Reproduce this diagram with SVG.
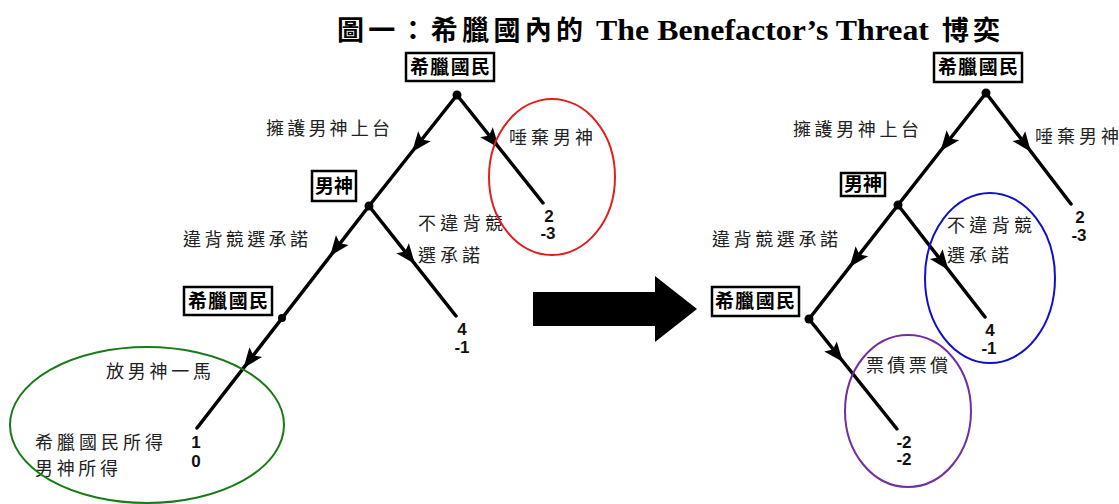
<svg xmlns="http://www.w3.org/2000/svg" xmlns:xlink="http://www.w3.org/1999/xlink" width="1119" height="504" viewBox="0 0 1119 504">
<style>
.edge{stroke:#000;stroke-width:3.5;fill:none;stroke-linecap:round}
.box{fill:#fff;stroke:#000;stroke-width:2.5}
.bl{font-family:"Noto Sans CJK TC","Noto Sans CJK SC",sans-serif;font-weight:700;font-size:19px;fill:#000;text-anchor:middle}
.lb{font-family:"Noto Sans CJK TC","Noto Sans CJK SC",sans-serif;font-weight:400;font-size:18px;fill:#222}
.num{font-family:"Liberation Sans",Arial,sans-serif;font-weight:700;font-size:17px;fill:#111;text-anchor:middle}
.dot{fill:#000}
.ring{fill:none;stroke-width:2}
</style>
<defs>
<path id="ah" d="M0,0 L-20,-8 L-16,0 L-20,8 Z" fill="#000"/>
</defs>
<rect width="1119" height="504" fill="#fff"/>
<g id="title">
<text x="337" y="40" textLength="246" lengthAdjust="spacing" font-family="Noto Sans CJK TC,Noto Sans CJK SC,sans-serif" font-weight="700" font-size="27" fill="#000">圖一：希臘國內的</text>
<text x="596" y="40" textLength="333" lengthAdjust="spacingAndGlyphs" font-family="Liberation Serif,Times New Roman,serif" font-weight="700" font-size="29" fill="#000">The Benefactor’s Threat</text>
<text x="942" y="40" textLength="58" lengthAdjust="spacing" font-family="Noto Sans CJK TC,Noto Sans CJK SC,sans-serif" font-weight="700" font-size="27" fill="#000">博奕</text>
</g>
<g id="connectors">
<path class="edge" d="M457,95 L369,206"/>
<path class="edge" d="M457,95 L543,203"/>
<path class="edge" d="M369,206 L197,428"/>
<path class="edge" d="M369,206 L456,316"/>
<path class="edge" d="M986,93 L898,205"/>
<path class="edge" d="M986,93 L1071,204"/>
<path class="edge" d="M898,205 L809,319"/>
<path class="edge" d="M898,205 L985,317"/>
<path class="edge" d="M809,319 L897,429"/>
<use xlink:href="#ah" href="#ah" transform="translate(412,152) rotate(128.4)"/>
<use xlink:href="#ah" href="#ah" transform="translate(499,148) rotate(51.5)"/>
<use xlink:href="#ah" href="#ah" transform="translate(330,256) rotate(127.8)"/>
<use xlink:href="#ah" href="#ah" transform="translate(243.5,368) rotate(127.8)"/>
<use xlink:href="#ah" href="#ah" transform="translate(415,264) rotate(51.7)"/>
<use xlink:href="#ah" href="#ah" transform="translate(940.5,151) rotate(128.2)"/>
<use xlink:href="#ah" href="#ah" transform="translate(1031,152) rotate(52.6)"/>
<use xlink:href="#ah" href="#ah" transform="translate(849.6,267) rotate(128)"/>
<use xlink:href="#ah" href="#ah" transform="translate(948.5,270) rotate(52.2)"/>
<use xlink:href="#ah" href="#ah" transform="translate(843,362) rotate(51.3)"/>
<polygon points="533,292 655,292 655,276 697,309 655,342 655,326 533,326" fill="#000"/>
</g>
<g id="left-tree-nodes">
<g id="L-root"><rect class="box" x="406" y="53" width="88" height="28"/><text class="bl" x="450" y="74" textLength="80" lengthAdjust="spacing">希臘國民</text><circle class="dot" cx="457" cy="95" r="4.5"/></g>
<g id="L-god"><rect class="box" x="312" y="171" width="44" height="30"/><text class="bl" x="334" y="193" textLength="38" lengthAdjust="spacing">男神</text><circle class="dot" cx="369" cy="206" r="4.5"/></g>
<g id="L-citizen2"><rect class="box" x="184" y="287" width="88" height="28"/><text class="bl" x="228" y="308" textLength="80" lengthAdjust="spacing">希臘國民</text><circle class="dot" cx="282" cy="318" r="4"/></g>
<g id="L-pay1"><text class="num" x="549" y="222">2</text><text class="num" x="548" y="239">-3</text></g>
<g id="L-pay2"><text class="num" x="462" y="335">4</text><text class="num" x="462" y="353">-1</text></g>
<g id="L-pay3"><text class="num" x="196" y="448">1</text><text class="num" x="196" y="467">0</text></g>
<text class="lb" x="266" y="135" textLength="124" lengthAdjust="spacing">擁護男神上台</text>
<text class="lb" x="509" y="144" textLength="84" lengthAdjust="spacing">唾棄男神</text>
<text class="lb" x="183" y="246" textLength="125" lengthAdjust="spacing">違背競選承諾</text>
<text class="lb" x="418" y="230" textLength="85" lengthAdjust="spacing">不違背競</text>
<text class="lb" x="418" y="262" textLength="62" lengthAdjust="spacing">選承諾</text>
<text class="lb" x="106" y="378" textLength="105" lengthAdjust="spacing">放男神一馬</text>
<text class="lb" x="35" y="449" textLength="128" lengthAdjust="spacing">希臘國民所得</text>
<text class="lb" x="35" y="475" textLength="83" lengthAdjust="spacing">男神所得</text>
<ellipse class="ring" cx="552" cy="177" rx="63" ry="78" stroke="#e02020"/>
<ellipse class="ring" cx="147" cy="425" rx="137" ry="78" stroke="#1a7a1a"/>
</g>
<g id="right-tree-nodes">
<g id="R-root"><rect class="box" x="934" y="53" width="88" height="29"/><text class="bl" x="978" y="74" textLength="80" lengthAdjust="spacing">希臘國民</text><circle class="dot" cx="986" cy="93" r="4.5"/></g>
<g id="R-god"><rect class="box" x="841" y="173" width="44" height="23"/><text class="bl" x="863" y="191" textLength="38" lengthAdjust="spacing">男神</text><circle class="dot" cx="898" cy="205" r="4.5"/></g>
<g id="R-citizen2"><rect class="box" x="712" y="287" width="87" height="29"/><text class="bl" x="755" y="308" textLength="80" lengthAdjust="spacing">希臘國民</text><circle class="dot" cx="809" cy="319" r="4.5"/></g>
<g id="R-pay1"><text class="num" x="1080" y="223">2</text><text class="num" x="1079" y="241">-3</text></g>
<g id="R-pay2"><text class="num" x="990" y="336">4</text><text class="num" x="989" y="354">-1</text></g>
<g id="R-pay3"><text class="num" x="904" y="448">-2</text><text class="num" x="904" y="465">-2</text></g>
<text class="lb" x="793" y="136" textLength="126" lengthAdjust="spacing">擁護男神上台</text>
<text class="lb" x="1035" y="143" textLength="84" lengthAdjust="spacing">唾棄男神</text>
<text class="lb" x="712" y="246" textLength="126" lengthAdjust="spacing">違背競選承諾</text>
<text class="lb" x="947" y="232" textLength="85" lengthAdjust="spacing">不違背競</text>
<text class="lb" x="947" y="262" textLength="62" lengthAdjust="spacing">選承諾</text>
<text class="lb" x="866" y="372" textLength="82" lengthAdjust="spacing">票債票償</text>
<ellipse class="ring" cx="990" cy="278" rx="65" ry="85" stroke="#1010c8"/>
<ellipse class="ring" cx="908" cy="411" rx="63" ry="76" stroke="#7030a0"/>
</g>
</svg>
